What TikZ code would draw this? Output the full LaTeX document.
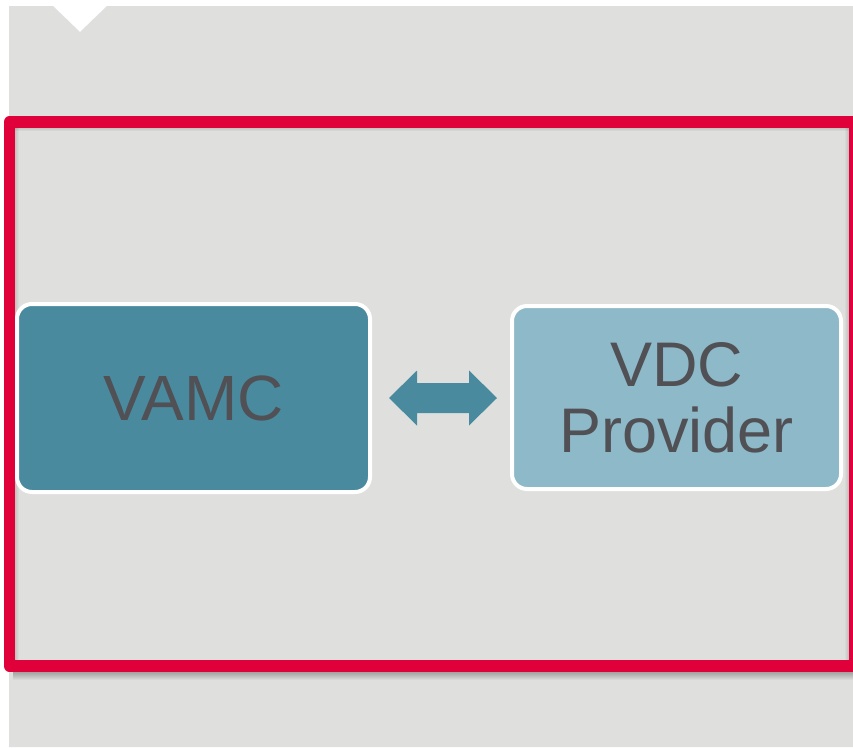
\documentclass[tikz,border=0pt]{standalone}
\usepackage{fontspec}
\setmainfont{Liberation Sans}
\definecolor{panel}{HTML}{DFDFDD}
\definecolor{frame}{HTML}{E0003A}
\definecolor{darkbox}{HTML}{4A8A9F}
\definecolor{lightbox}{HTML}{8DB9C9}
\definecolor{labeltext}{HTML}{505055}
\tikzset{
  box/.style={draw=white, line width=4pt, rounded corners=15pt, inner sep=0pt,
    text=labeltext, align=center},
}
\begin{document}
\begin{tikzpicture}[x=1pt,y=-1pt]
\useasboundingbox (0,0) rectangle (853,747);
\fill[white] (0,0) rectangle (853,747);
% grey panel with the notch at the top
\fill[panel] (9,6) -- (53,6) -- (80,32) -- (107,6) -- (853,6) -- (853,747) -- (9,747) -- cycle;
% drop shadow below the frame
\foreach \i in {1,...,9}{
  \fill[black,opacity=0.035] (13,671) rectangle (853,671+\i);
}
% inner shadow of the frame
\foreach \i in {1,...,4}{
  \fill[black,opacity=0.04] (15,127) rectangle (849,127+\i);
  \fill[black,opacity=0.03] (15,127) rectangle (15+\i,660);
  \fill[black,opacity=0.03] (849-\i,127) rectangle (849,660);
}
% red frame
\draw[frame, line width=11.5pt, line join=round] (9.5,122) rectangle (855,666);
% boxes
\node[box, fill=darkbox, minimum width=353pt, minimum height=188pt,
  font=\fontsize{64}{66}\selectfont] (vamc) at (193.5,398) {VAMC};
\node[box, fill=lightbox, minimum width=329pt, minimum height=183pt,
  font=\fontsize{63}{66}\selectfont] (vdc) at (676.5,397.5) {VDC\\Provider};
% double block arrow between the boxes
\coordinate (mid) at (443,398);
\fill[darkbox] ([xshift=-54pt]mid) -- ([xshift=-26pt,yshift=-27.5pt]mid)
  -- ([xshift=-26pt,yshift=-15pt]mid) -- ([xshift=26pt,yshift=-15pt]mid)
  -- ([xshift=26pt,yshift=-27.5pt]mid) -- ([xshift=54pt]mid)
  -- ([xshift=26pt,yshift=27.5pt]mid) -- ([xshift=26pt,yshift=15pt]mid)
  -- ([xshift=-26pt,yshift=15pt]mid) -- ([xshift=-26pt,yshift=27.5pt]mid) -- cycle;
\end{tikzpicture}
\end{document}
